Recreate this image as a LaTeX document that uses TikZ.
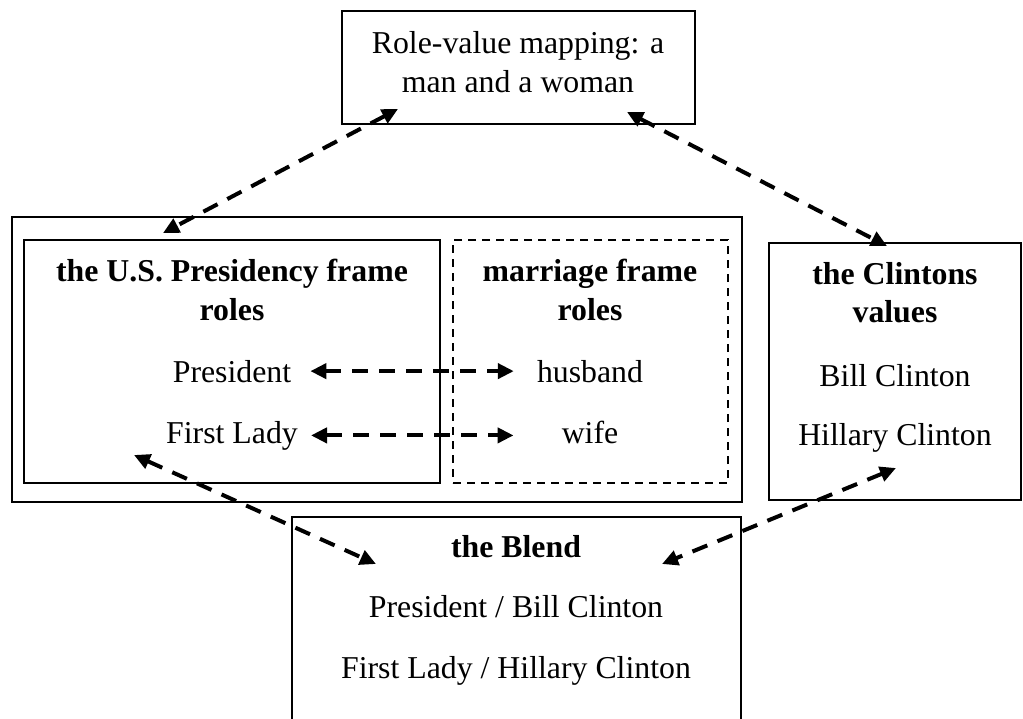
\documentclass[tikz,border=0pt]{standalone}
\usepackage{fontspec}
\setmainfont{Liberation Serif}
\usetikzlibrary{arrows.meta}
\begin{document}
\begin{tikzpicture}[x=1pt,y=-1pt,
  box/.style={draw, line width=2.6pt, inner sep=0pt},
  dbox/.style={draw, line width=2.2pt, dash pattern=on 8pt off 6pt, inner sep=0pt},
  link/.style={line width=4pt, dash pattern=on 16pt off 11pt,
    {Triangle[length=16pt,width=15pt]}-{Triangle[length=16pt,width=15pt]}},
  txt/.style={font=\fontsize{31.8}{38}\selectfont, inner sep=0pt, anchor=base},
  btxt/.style={txt, font=\fontsize{31.8}{38}\selectfont\bfseries},
]
\useasboundingbox (0,0) rectangle (1023,718);
\clip (0,0) rectangle (1023,718);

% boxes
\node[box, minimum width=353pt, minimum height=113pt] (top) at (518.5,67.5) {};
\node[box, minimum width=730pt, minimum height=285pt] (outer) at (377,359.5) {};
\node[box, minimum width=416pt, minimum height=243pt] (pres) at (232,361.5) {};
\node[dbox, minimum width=275pt, minimum height=243pt] (marr) at (590.5,361.5) {};
\node[box, minimum width=252pt, minimum height=257pt] (clin) at (895,371.5) {};
\node[box, minimum width=449pt, minimum height=223pt] (blend) at (516.5,628.5) {};

% texts
\node[txt] (t1) at (518,53) {Role-value mapping: a};
\node[txt] (t2) at (518,92) {man and a woman};

\node[btxt] (ph1) at (232,281) {the U.S. Presidency frame};
\node[btxt] (ph2) at (232,320) {roles};
\node[txt] (president) at (232,382) {President};
\node[txt] (firstlady) at (232,443) {First Lady};

\node[btxt] (mh1) at (590,281) {marriage frame};
\node[btxt] (mh2) at (590,320) {roles};
\node[txt] (husband) at (590,382) {husband};
\node[txt] (wife) at (590,443) {wife};

\node[btxt] (ch1) at (895,284) {the Clintons};
\node[btxt] (ch2) at (895,322) {values};
\node[txt] (bill) at (895,386) {Bill Clinton};
\node[txt] (hillary) at (895,445) {Hillary Clinton};

\node[btxt] (bh) at (516,557) {the Blend};
\node[txt] (b1) at (516,617) {President / Bill Clinton};
\node[txt] (b2) at (516,678) {First Lady / Hillary Clinton};

% connector ends
\coordinate (topL) at (398,109);
\coordinate (presT) at (163,233);
\coordinate (topR) at (627,112);
\coordinate (clinT) at (887,246);
\coordinate (presB) at (134,455);
\coordinate (blendL) at (376,564);
\coordinate (clinB) at (896,468);
\coordinate (blendR) at (662,564);

% connectors
\draw[link, shorten <=19pt, shorten >=23pt] (president.east) -- (husband.west);
\draw[link, shorten <=13pt, shorten >=48pt] (firstlady.east) -- (wife.west |- firstlady.east);
\draw[link] (topL) -- (presT);
\draw[link] (topR) -- (clinT);
\draw[link] (presB) -- (blendL);
\draw[link] (clinB) -- (blendR);
\end{tikzpicture}
\end{document}
